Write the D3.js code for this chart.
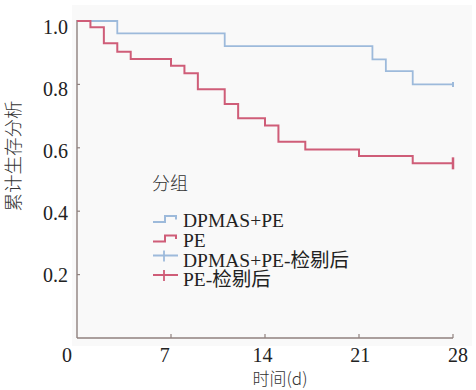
<!DOCTYPE html>
<html><head><meta charset="utf-8">
<script src="https://cdn.jsdelivr.net/npm/d3@7"></script>
<style>body{margin:0;background:#fff}svg{display:block}</style>
</head><body>
<svg id="c" width="476" height="390"></svg>
<script>
const xTicks = [0, 7, 14, 21, 28];
const yTicks = [0.2, 0.4, 0.6, 0.8, 1.0];
const blueTimes = [0, 3, 11, 22, 23, 25, 28];
const blueSurv  = [1, 0.961, 0.921, 0.879, 0.842, 0.800, 0.800];
const redTimes  = [0, 1, 2, 3, 4, 7, 8, 9, 11, 12, 14, 15, 17, 21, 25, 28];
const redSurv   = [1, 0.980, 0.930, 0.903, 0.880, 0.859, 0.835, 0.785, 0.738, 0.693, 0.670, 0.619, 0.595, 0.574, 0.551, 0.551];
const legendTitle = "分组";
const legendLabels = ["DPMAS+PE", "PE", "DPMAS+PE-检剔后", "PE-检剔后"];
const yTitle = "累计生存分析";
const xTitle = "时间(d)";

const BLUE = "#9dbadb", RED = "#cf5d78";
const serif = "'Liberation Serif','DejaVu Serif','Noto Sans CJK SC',serif";
const cjk = "'Noto Sans CJK SC',sans-serif";
const svg = d3.select("#c");

const x = d3.scaleLinear().domain([0, 28]).range([77, 453]);
const y = d3.scaleLinear().domain([0, 1]).range([338, 21]);
// label placement as in the reference picture
const xl = d3.scaleLinear().domain([0, 28]).range([67, 458]);
const yl = d3.scaleLinear().domain([0.2, 1.0]).range([275, 27]);

svg.append("rect").attr("x", 72).attr("y", 5).attr("width", 400).attr("height", 341).attr("fill", "#f9f9f9");

// axes
const axCol = "#8f817e";
svg.append("line").attr("x1", x(0)).attr("x2", x(0)).attr("y1", 338).attr("y2", y(1) - 1).attr("stroke", axCol).attr("stroke-width", 1.4);
svg.append("line").attr("x1", x(0)).attr("x2", x(28)).attr("y1", 338).attr("y2", 338).attr("stroke", axCol).attr("stroke-width", 1.4);
svg.selectAll(".xt").data(xTicks.slice(1)).join("line")
  .attr("x1", d => x(d)).attr("x2", d => x(d)).attr("y1", 338).attr("y2", 334)
  .attr("stroke", axCol).attr("stroke-width", 1.2);
svg.selectAll(".yt").data(yTicks.slice(0, 4)).join("line")
  .attr("x1", x(0)).attr("x2", x(0) + 3).attr("y1", d => y(d)).attr("y2", d => y(d))
  .attr("stroke", axCol).attr("stroke-width", 1.2);

svg.selectAll(".xl").data(xTicks).join("text")
  .attr("x", d => xl(d)).attr("y", 362).attr("text-anchor", "middle")
  .attr("font-family", serif).attr("font-size", 20).attr("fill", "#222").text(d => d);
svg.selectAll(".yl").data(yTicks).join("text")
  .attr("x", 68).attr("y", d => yl(d)).attr("dy", "0.35em").attr("text-anchor", "end")
  .attr("font-family", serif).attr("font-size", 20).attr("fill", "#222").text(d => d.toFixed(1));

svg.append("text").attr("transform", "translate(20,156) rotate(-90)").attr("text-anchor", "middle")
  .attr("font-family", cjk).attr("font-weight", 300).attr("font-size", 18.5).attr("fill", "#333").text(yTitle);
svg.append("text").attr("x", 280).attr("y", 385).attr("text-anchor", "middle")
  .attr("font-family", cjk).attr("font-weight", 300).attr("font-size", 17).attr("fill", "#333").text(xTitle);

// curves
const line = d3.line().x(d => x(d[0])).y(d => y(d[1])).curve(d3.curveStepAfter);
const blueData = blueTimes.map((t, i) => [t, blueSurv[i]]);
const redData = redTimes.map((t, i) => [t, redSurv[i]]);
svg.append("path").attr("d", line(blueData)).attr("fill", "none").attr("stroke", BLUE).attr("stroke-width", 1.8);
svg.append("path").attr("d", line(redData)).attr("fill", "none").attr("stroke", RED).attr("stroke-width", 2);
// censor marks
svg.append("line").attr("x1", x(28)).attr("x2", x(28)).attr("y1", y(blueSurv[blueSurv.length-1]) - 2.5).attr("y2", y(blueSurv[blueSurv.length-1]) + 2.5)
  .attr("stroke", BLUE).attr("stroke-width", 2);
svg.append("line").attr("x1", x(28)).attr("x2", x(28)).attr("y1", y(redSurv[redSurv.length-1]) - 6).attr("y2", y(redSurv[redSurv.length-1]) + 6)
  .attr("stroke", RED).attr("stroke-width", 2.5);

// legend
svg.append("text").attr("x", 152).attr("y", 190).attr("font-family", cjk).attr("font-weight", 300)
  .attr("font-size", 18).attr("fill", "#333").text(legendTitle);
const rowsY = [222, 241.5, 261.5, 281];
const cols = [BLUE, RED, BLUE, RED];
legendLabels.forEach((lab, i) => {
  const cy = rowsY[i];
  if (i < 2) {
    svg.append("path").attr("d", `M153,${cy} H165 V${cy - 6} H176 V${cy - 2.5}`)
      .attr("fill", "none").attr("stroke", cols[i]).attr("stroke-width", 2);
  } else {
    svg.append("path").attr("d", `M153,${cy - 6} H178 M164,${cy - 11} V${cy}`)
      .attr("fill", "none").attr("stroke", cols[i]).attr("stroke-width", 1.8);
  }
  svg.append("text").attr("x", 183).attr("y", cy + 5).attr("font-family", serif)
    .attr("font-size", 19.5).attr("fill", "#222").text(lab);
});
</script>
</body></html>
